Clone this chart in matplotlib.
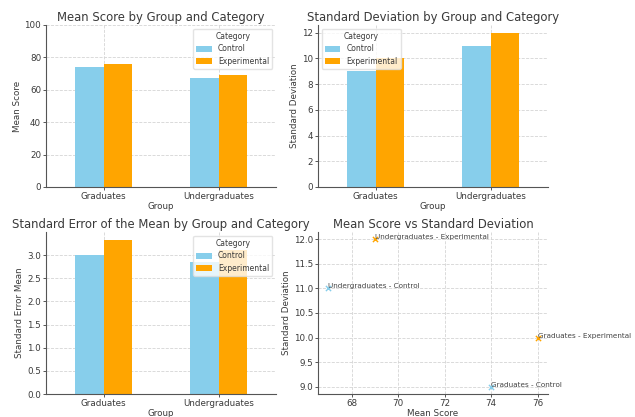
import matplotlib
matplotlib.use("Agg")
import matplotlib.pyplot as plt
import numpy as np

groups = ["Graduates", "Undergraduates"]
categories = ["Control", "Experimental"]
mean_control = [74, 67]
mean_experimental = [76, 69]
sd_control = [9, 11]
sd_experimental = [10, 12]
sem_control = [3.0, 2.84]
sem_experimental = [3.33, 3.10]

colors = {"Control": "skyblue", "Experimental": "orange"}
text_color = "#3a3a3a"

plt.rcParams.update({
    "font.family": "DejaVu Sans",
    "text.color": text_color,
    "axes.labelcolor": text_color,
    "xtick.color": text_color,
    "ytick.color": text_color,
    "axes.edgecolor": "#555555",
})

fig = plt.figure(figsize=(6.35, 4.17), dpi=100)
W, H = 635, 417

def add_ax(x0, y0, x1, y1):
    return fig.add_axes([x0 / W, 1 - y1 / H, (x1 - x0) / W, (y1 - y0) / H])

ax1 = add_ax(46, 25, 276, 187)
ax2 = add_ax(318, 25, 548, 187)
ax3 = add_ax(46, 232, 276, 394)
ax4 = add_ax(318, 232, 548, 394)

TITLE = 8.4
LAB = 6.3
TICK = 6.3

def style(ax):
    for s in ["top", "right"]:
        ax.spines[s].set_visible(False)
    ax.grid(True, linestyle="--", color="#d5d5d5", linewidth=0.6)
    ax.set_axisbelow(True)
    ax.tick_params(labelsize=TICK, length=2, width=0.6, pad=1.5)
    for s in ["left", "bottom"]:
        ax.spines[s].set_linewidth(0.8)

def bar_chart(ax, ctrl, exp, title, ylabel, loc):
    x = np.arange(len(groups))
    w = 0.25
    ax.bar(x - w / 2, ctrl, w, color=colors["Control"], label="Control")
    ax.bar(x + w / 2, exp, w, color=colors["Experimental"], label="Experimental")
    ax.set_xticks(x)
    ax.set_xticklabels(groups, rotation=0)
    ax.set_xlim(-0.5, 1.5)
    ax.set_title(title, fontsize=TITLE, color=text_color, pad=3)
    ax.set_xlabel("Group", fontsize=LAB, labelpad=1)
    ax.set_ylabel(ylabel, fontsize=LAB, labelpad=2)
    ax.legend(title="Category", loc=loc, fontsize=5.5, title_fontsize=5.5,
              framealpha=0.8, edgecolor="#dddddd", handlelength=2.0,
              handleheight=0.8, borderaxespad=0.5, labelspacing=0.45)
    style(ax)

bar_chart(ax1, mean_control, mean_experimental, "Mean Score by Group and Category", "Mean Score", "upper right")
ax1.set_ylim(0, 100)
bar_chart(ax2, sd_control, sd_experimental, "Standard Deviation by Group and Category", "Standard Deviation", "upper left")
bar_chart(ax3, sem_control, sem_experimental, "Standard Error of the Mean by Group and Category", "Standard Error Mean", "upper right")

# scatter
for cat, means, sds in [("Control", mean_control, sd_control), ("Experimental", mean_experimental, sd_experimental)]:
    ax4.scatter(means, sds, marker="x", color=colors[cat], s=14, linewidths=1.0)
    for g, m, s in zip(groups, means, sds):
        ax4.annotate(f"{g} - {cat}", (m, s), fontsize=5.2, color="#444444")
ax4.set_title("Mean Score vs Standard Deviation", fontsize=TITLE, color=text_color, pad=3)
ax4.set_xlabel("Mean Score", fontsize=LAB, labelpad=1)
ax4.set_ylabel("Standard Deviation", fontsize=LAB, labelpad=2)
style(ax4)

fig.savefig("out.png", dpi=100)
